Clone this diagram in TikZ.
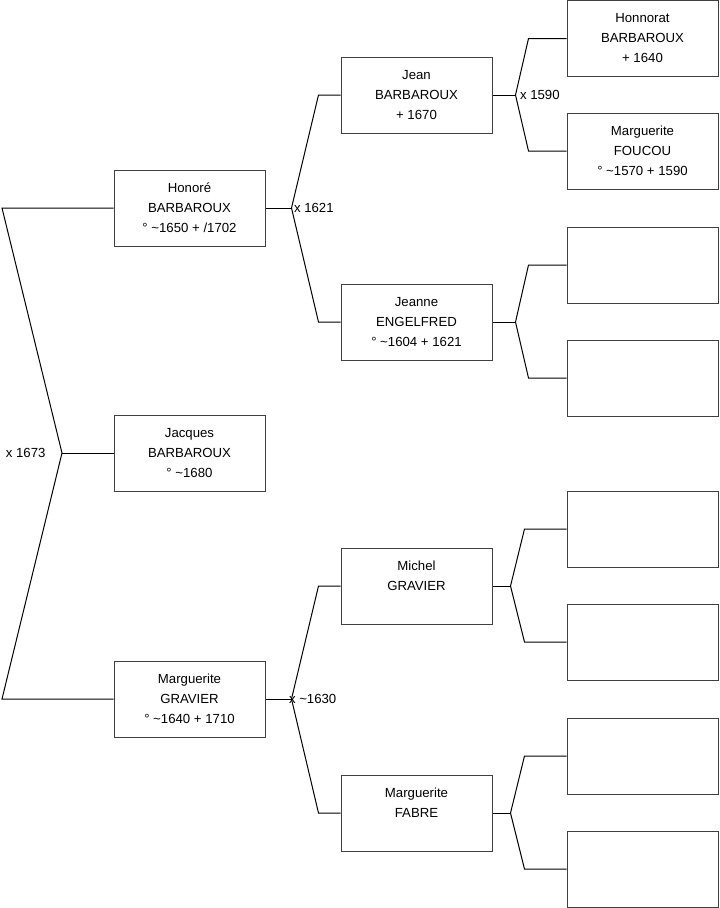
\documentclass[tikz,border=0pt]{standalone}
\usepackage{fontspec}
\setmainfont{Liberation Sans}
\usetikzlibrary{calc}

\tikzset{
  person/.style={draw=black!75, line width=0.75pt, minimum width=113.25pt, minimum height=57pt,
    inner sep=0pt, align=center, font=\fontsize{9.9}{15}\selectfont},
  union/.style={inner sep=0pt, font=\fontsize{9.9}{11}\selectfont},
}

\begin{document}
\begin{tikzpicture}[x=0.75pt,y=-0.75pt,line width=0.75pt]
\useasboundingbox (0,0) rectangle (719,908);
% generation 1
\node[person] (hon) at (189.5,208) {Honoré\\BARBAROUX\\° \textasciitilde1650 + /1702};
\node[person] (jac) at (189.5,453) {Jacques\\BARBAROUX\\° \textasciitilde1680};
\node[person] (mgr) at (189.5,699) {Marguerite\\GRAVIER\\° \textasciitilde1640 + 1710};
% generation 2
\node[person] (jean) at (416.5,95) {Jean\\BARBAROUX\\+ 1670};
\node[person] (jeanne) at (416.5,322) {Jeanne\\ENGELFRED\\° \textasciitilde1604 + 1621};
\node[person] (michel) at (416.5,586) {Michel\\GRAVIER\\\mbox{}};
\node[person] (fabre) at (416.5,813) {Marguerite\\FABRE\\\mbox{}};
% generation 3
\node[person] (honn) at (642.5,38.5) {Honnorat\\BARBAROUX\\+ 1640};
\node[person] (fou) at (642.5,151) {Marguerite\\FOUCOU\\° \textasciitilde1570 + 1590};
\node[person] (e1) at (642.5,265) {};
\node[person] (e2) at (642.5,378) {};
\node[person] (e3) at (642.5,529) {};
\node[person] (e4) at (642.5,642) {};
\node[person] (e5) at (642.5,756) {};
\node[person] (e6) at (642.5,869) {};

% forks
\coordinate (top) at (2,208);
\coordinate (mid) at (62,453);
\coordinate (bot) at (2,699);
\draw (hon.west) -- (top) -- (mid) -- (bot) -- (mgr.west);
\draw (mid) -- (jac.west);
\foreach \c/\a/\b/\d/\e in {hon/jean/jeanne/26/22, mgr/michel/fabre/26/22,
    jean/honn/fou/23/38, jeanne/e1/e2/23/38, michel/e3/e4/18/42, fabre/e5/e6/18/42} {
  \draw (\c.east) -- ++(\d,0) coordinate (f\c);
  \draw (f\c) -- ($(\a.west)+(-\e,0)$) -- (\a.west);
  \draw (f\c) -- ($(\b.west)+(-\e,0)$) -- (\b.west);
}

% marriages
\node[union, anchor=east] (u0) at ($(mid)+(-16,0)$) {x 1673};
\node[union, anchor=west] (u1) at ($(fhon)+(2,0)$) {x 1621};
\node[union, anchor=west] (u2) at ($(fmgr)+(-3,0)$) {x \textasciitilde1630};
\node[union, anchor=west] (u3) at ($(fjean)+(4,0)$) {x 1590};
\end{tikzpicture}
\end{document}
